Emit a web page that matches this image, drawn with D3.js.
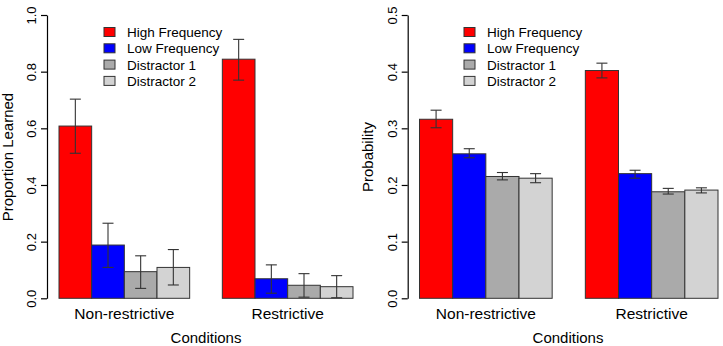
<!DOCTYPE html>
<html>
<head>
<meta charset="utf-8">
<script src="https://cdn.jsdelivr.net/npm/d3@7"></script>
<style>
  body { margin: 0; background: #fff; }
  text { font-family: "Liberation Sans", Arial, sans-serif; fill: #000; }
</style>
</head>
<body>
<div id="chart"></div>
<script>
// data
const conditions = ["Non-restrictive", "Restrictive"];
const series = ["High Frequency", "Low Frequency", "Distractor 1", "Distractor 2"];
const colors = ["#ff0000", "#0000ff", "#aaaaaa", "#d3d3d3"];

// left panel: proportion learned (rows = condition, cols = series)
const learnedMean = [[0.608, 0.188, 0.094, 0.109], [0.844, 0.069, 0.046, 0.041]];
const learnedHi   = [[0.703, 0.265, 0.150, 0.172], [0.914, 0.118, 0.087, 0.080]];
const learnedLo   = [[0.512, 0.109, 0.035, 0.047], [0.770, 0.018, 0.004, 0.002]];
const learnedTicks = [0, 0.2, 0.4, 0.6, 0.8, 1.0];

// right panel: probability
const probMean = [[0.316, 0.255, 0.215, 0.212], [0.402, 0.220, 0.188, 0.191]];
const probHi   = [[0.332, 0.264, 0.222, 0.220], [0.415, 0.226, 0.194, 0.195]];
const probLo   = [[0.301, 0.248, 0.209, 0.204], [0.389, 0.212, 0.184, 0.186]];
const probTicks = [0, 0.1, 0.2, 0.3, 0.4, 0.5];

const W = 723, H = 346;
const svg = d3.select("#chart").append("svg")
  .attr("width", W).attr("height", H);

function panel(opt) {
  const g = svg.append("g");
  const y = d3.scaleLinear().domain([0, opt.ymax]).range([298.3, 15]);
  const x0 = d3.scaleBand().domain(conditions)
    .range([opt.barLeft, opt.barRight]).paddingInner(0.2).paddingOuter(0);
  const x1 = d3.scaleBand().domain(series).range([0, x0.bandwidth()]);

  // y axis, R style: labels parallel to the axis
  const ax = g.append("g").attr("transform", "translate(" + opt.axisX + ",0)")
    .call(d3.axisLeft(y).tickValues(opt.ticks).tickFormat(d3.format(".1f")).tickSize(6).tickSizeOuter(0));
  ax.select(".domain").attr("stroke", "#000").attr("stroke-width", 1.2);
  ax.selectAll(".tick line").attr("stroke", "#000").attr("stroke-width", 1.2);
  ax.selectAll(".tick text")
    .attr("x", 0).attr("y", 0).attr("dy", 0)
    .attr("transform", "translate(-11,0) rotate(-90)")
    .attr("text-anchor", "middle")
    .attr("font-size", 13)
    .attr("font-family", "Liberation Sans, Arial, sans-serif");

  // bars
  conditions.forEach((c, ci) => {
    const gg = g.append("g").attr("transform", "translate(" + x0(c) + ",0)");
    gg.selectAll("rect").data(series).join("rect")
      .attr("x", s => x1(s))
      .attr("y", (s, si) => y(opt.mean[ci][si]))
      .attr("width", x1.bandwidth())
      .attr("height", (s, si) => y(0) - y(opt.mean[ci][si]))
      .attr("fill", (s, si) => colors[si])
      .attr("stroke", "#333").attr("stroke-width", 1);

    // error bars
    const mid = s => x1(s) + x1.bandwidth() / 2;
    const eb = gg.selectAll("g.err").data(series).join("g").attr("class", "err")
      .attr("stroke", "#333").attr("stroke-width", 1.1);
    eb.append("line")
      .attr("x1", mid).attr("x2", mid)
      .attr("y1", (s, si) => y(opt.hi[ci][si])).attr("y2", (s, si) => y(opt.lo[ci][si]));
    eb.append("line")
      .attr("x1", s => mid(s) - 5.5).attr("x2", s => mid(s) + 5.5)
      .attr("y1", (s, si) => y(opt.hi[ci][si])).attr("y2", (s, si) => y(opt.hi[ci][si]));
    eb.append("line")
      .attr("x1", s => mid(s) - 5.5).attr("x2", s => mid(s) + 5.5)
      .attr("y1", (s, si) => y(opt.lo[ci][si])).attr("y2", (s, si) => y(opt.lo[ci][si]));

    // category label
    g.append("text")
      .attr("x", x0(c) + x0.bandwidth() / 2).attr("y", 318.5)
      .attr("text-anchor", "middle").attr("font-size", 15.5)
      .text(c);
  });

  // axis titles
  g.append("text")
    .attr("x", opt.xTitleX).attr("y", 342.5)
    .attr("text-anchor", "middle").attr("font-size", 15)
    .text("Conditions");
  g.append("text")
    .attr("transform", "translate(" + opt.yTitleX + ",157) rotate(-90)")
    .attr("text-anchor", "middle").attr("font-size", 15)
    .text(opt.yTitle);

  // legend
  const lg = g.append("g").attr("transform", "translate(" + opt.legX + ",32)");
  const rows = lg.selectAll("g").data(series).join("g")
    .attr("transform", (s, i) => "translate(0," + (i * 16.3) + ")");
  rows.append("rect")
    .attr("x", 0).attr("y", -4.5).attr("width", 11).attr("height", 9)
    .attr("fill", (s, i) => colors[i]).attr("stroke", "#333").attr("stroke-width", 1);
  rows.append("text")
    .attr("x", 23).attr("y", 5).attr("font-size", 13.5)
    .text(s => s);
}

panel({
  ymax: 1.0, ticks: learnedTicks,
  mean: learnedMean, hi: learnedHi, lo: learnedLo,
  axisX: 47, barLeft: 59, barRight: 353,
  xTitleX: 206, yTitleX: 13, yTitle: "Proportion Learned", legX: 104
});

panel({
  ymax: 0.5, ticks: probTicks,
  mean: probMean, hi: probHi, lo: probLo,
  axisX: 407.7, barLeft: 419.5, barRight: 718,
  xTitleX: 568, yTitleX: 373, yTitle: "Probability", legX: 464
});
</script>
</body>
</html>
